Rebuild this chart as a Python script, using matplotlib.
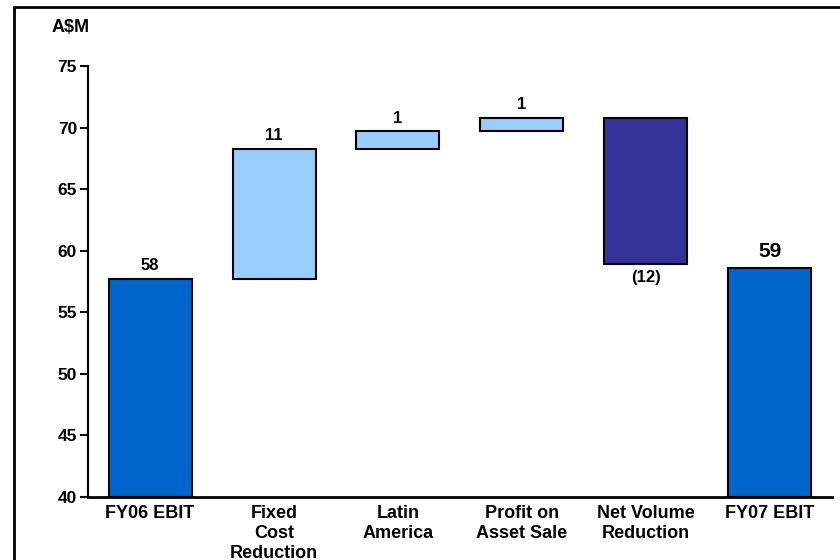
import matplotlib.pyplot as plt
from matplotlib.patches import Rectangle

plt.rcParams['font.family'] = ['Liberation Sans', 'DejaVu Sans']
plt.rcParams['font.weight'] = 'bold'

# puente de EBIT FY06 -> FY07 (A$M)
categorias = ['FY06 EBIT', 'Fixed\nCost\nReduction', 'Latin\nAmerica',
              'Profit on\nAsset Sale', 'Net Volume\nReduction', 'FY07 EBIT']
inicio = 57.7
cambios = [10.6, 1.4, 1.1, -11.9]
final = 58.6
colores = ['#0066CC', '#99CCFF', '#99CCFF', '#99CCFF', '#333399', '#0066CC']

fig = plt.figure(figsize=(8.4, 5.6), dpi=100)
ax = fig.add_axes([0.105, 0.1125, 0.885, 0.7695])

# calcular bases y alturas de cada barra
bases = [40]
alturas = [inicio - 40]
acum = inicio
for c in cambios:
    if c >= 0:
        bases.append(acum)
        alturas.append(c)
    else:
        bases.append(acum + c)
        alturas.append(-c)
    acum += c
bases.append(40)
alturas.append(final - 40)

x = range(len(categorias))
ax.bar(x, alturas, bottom=bases, width=0.67, color=colores,
       edgecolor='black', linewidth=1.5, zorder=3)

# etiquetas de valor
ax.text(0, inicio + 0.5, '%d' % round(inicio), ha='center', va='bottom', fontsize=12)
acum = inicio
for i, c in enumerate(cambios):
    if c >= 0:
        ax.text(i + 1, acum + c + 0.45, '%d' % round(c), ha='center', va='bottom', fontsize=12)
    else:
        ax.text(i + 1, acum + c - 0.45, '(%d)' % round(-c), ha='center', va='top', fontsize=12)
    acum += c
ax.text(5, final + 0.55, '%d' % round(final), ha='center', va='bottom', fontsize=15)

ax.set_xlim(-0.5, 5.5)
ax.set_ylim(40, 75)
ax.set_yticks(range(40, 80, 5))
ax.set_xticks(list(x))
ax.set_xticklabels(categorias, fontsize=13, linespacing=1.2)
ax.tick_params(axis='x', length=0, pad=6)
ax.tick_params(axis='y', length=6, width=1.5, labelsize=12.5, pad=2)
ax.spines['top'].set_visible(False)
ax.spines['right'].set_visible(False)
ax.spines['left'].set_linewidth(1.5)
ax.spines['bottom'].set_linewidth(2)

fig.text(52 / 840, 1 - 27 / 560, 'A$M', ha='left', va='center', fontsize=13)

# marco alrededor de la figura
fig.patches.append(Rectangle((14 / 840, -0.1), 1.2, 1.1 - 7 / 560, transform=fig.transFigure,
                             fill=False, edgecolor='black', linewidth=2))

fig.savefig('out.png', dpi=100)
